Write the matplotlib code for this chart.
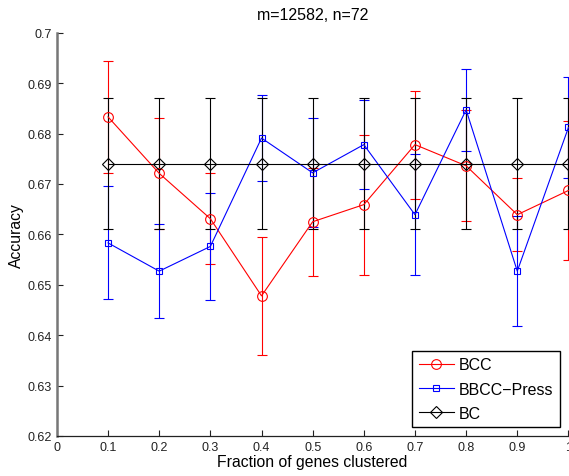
import matplotlib
matplotlib.use('Agg')
import matplotlib.pyplot as plt

plt.rcParams['font.family'] = ['Liberation Sans', 'DejaVu Sans']

fraction = [0.1, 0.2, 0.3, 0.4, 0.5, 0.6, 0.7, 0.8, 0.9, 1.0]

bcc = [0.6833, 0.6721, 0.6631, 0.6478, 0.6625, 0.6659, 0.6778, 0.6736, 0.6639, 0.6687]
bcc_err = [0.0111, 0.0110, 0.0090, 0.0117, 0.0107, 0.0139, 0.0107, 0.0110, 0.0073, 0.0138]

bbcc = [0.6583, 0.6527, 0.6576, 0.6791, 0.6722, 0.6778, 0.6639, 0.6847, 0.6527, 0.6812]
bbcc_err = [0.0112, 0.0093, 0.0106, 0.0086, 0.0108, 0.0088, 0.0120, 0.0082, 0.0109, 0.0100]

bc = [0.674] * 10
bc_err = [0.013] * 10

fig = plt.figure(figsize=(5.69, 4.77), dpi=100)
ax = fig.add_axes([0.1, 0.0839, 0.899, 0.8454])

common = dict(linewidth=0.8, elinewidth=0.8, capsize=3.3, capthick=0.8,
              markerfacecolor='none', markeredgewidth=0.8, clip_on=False)
e1 = ax.errorbar(fraction, bcc, yerr=bcc_err, color='#ff0000', marker='o',
                 markersize=7, label='BCC', **common)
e2 = ax.errorbar(fraction, bbcc, yerr=bbcc_err, color='#0000ff', marker='s',
                 markersize=5, label='BBCC\u2212Press', **common)
e3 = ax.errorbar(fraction, bc, yerr=bc_err, color='black', marker='D',
                 markersize=6, label='BC', **common)

ax.set_xlim(0, 1)
ax.set_ylim(0.62, 0.7)
ax.set_xticks([0, 0.1, 0.2, 0.3, 0.4, 0.5, 0.6, 0.7, 0.8, 0.9, 1.0])
ax.set_xticklabels(['0', '0.1', '0.2', '0.3', '0.4', '0.5', '0.6', '0.7', '0.8', '0.9', '1'])
ax.set_yticks([0.62, 0.63, 0.64, 0.65, 0.66, 0.67, 0.68, 0.69, 0.7])
ax.set_yticklabels(['0.62', '0.63', '0.64', '0.65', '0.66', '0.67', '0.68', '0.69', '0.7'])
ax.tick_params(direction='in', length=4, width=0.8, labelsize=9, colors='#222222')

ax.spines['top'].set_visible(False)
ax.spines['right'].set_visible(False)
ax.spines['left'].set_color('#777777')
ax.spines['left'].set_linewidth(1.8)
ax.spines['bottom'].set_color('#222222')
ax.spines['bottom'].set_linewidth(0.9)

ax.set_title('m=12582, n=72', fontsize=11.5, pad=10)
ax.set_xlabel('Fraction of genes clustered', fontsize=11.3, labelpad=1)
ax.set_ylabel('Accuracy', fontsize=11.3, labelpad=3)

leg = ax.legend([e1[0], e2[0], e3[0]], ['BCC', 'BBCC\u2212Press', 'BC'],
                loc='lower right', fontsize=11.5, fancybox=False, framealpha=1,
                edgecolor='black', borderpad=0.4, handlelength=2.2,
                labelspacing=0.58, handletextpad=0.3, borderaxespad=0.55)
leg.get_frame().set_linewidth(1.0)

fig.savefig('out.png', dpi=100)
